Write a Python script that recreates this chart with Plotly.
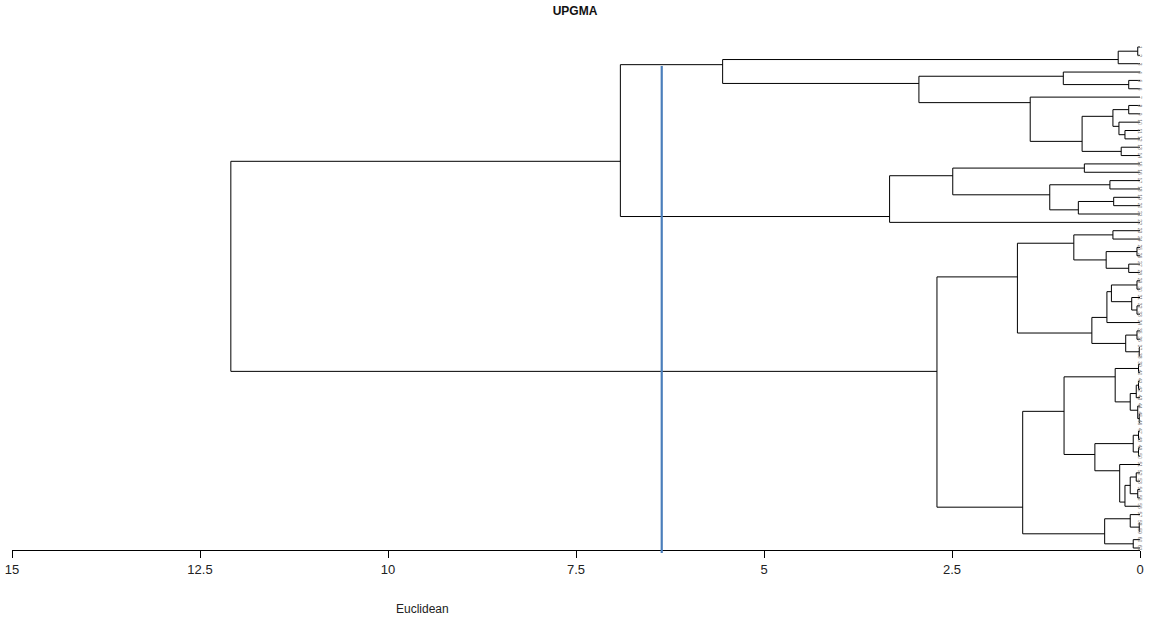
import plotly.graph_objects as go

# ---- data -------------------------------------------------------------
# leaves listed in display order (top to bottom)
leaf_labels = ["1", "2", "3", "4", "5", "6", "7", "8", "9", "10",
               "11", "12", "13", "14", "15", "16", "17", "18", "19", "20",
               "21", "22", "23", "24", "25", "26", "27", "28", "29", "30",
               "31", "32", "33", "34", "35", "36", "37", "38", "39", "40",
               "41", "42", "43", "44", "45", "46", "47", "48", "49", "50",
               "51", "52", "53", "54", "55", "56", "57", "58", "59", "60", "61"]

# linkage (R hclust style): negative = leaf number, positive = earlier merge row
merge_left = [-1, 1, -5, -4, -8, -11, -10, 5, -13, 8,
              -7, 4, 2, -15, -17, -19, 16, 15, 14, 19,
              13, -23, -25, -27, 23, 22, -29, -32, -31, 27,
              30, -35, -37, 32, 31, 26, -39, -41, 38, -45,
              -44, 39, 37, -47, -49, 44, -52, -54, 47, 49,
              -51, 46, 43, -58, -57, -60, 55, 53, 36, 21]
merge_right = [-2, -3, -6, 3, -9, -12, 6, 7, -14, 9,
               10, 11, 12, -16, -18, -20, -21, 17, 18, -22,
               20, -24, -26, -28, 24, 25, -30, -33, 28, 29,
               -34, -36, -38, 33, 34, 35, -40, -42, -43, -46,
               40, 41, 42, -48, -50, 45, -53, -55, 48, -56,
               50, 51, 52, -59, 54, -61, 56, 57, 58, 59]
merge_height = [0.03, 0.29, 0.15, 1.02, 0.15, 0.20, 0.28, 0.36, 0.25, 0.77,
                1.46, 2.94, 5.55, 0.74, 0.40, 0.35, 0.82, 1.20, 2.49, 3.33,
                6.91, 0.36, 0.04, 0.15, 0.45, 0.88, 0.04, 0.04, 0.11, 0.38,
                0.44, 0.04, 0.01, 0.19, 0.64, 1.63, 0.02, 0.02, 0.05, 0.01,
                0.03, 0.13, 0.33, 0.02, 0.02, 0.09, 0.05, 0.03, 0.13, 0.20,
                0.27, 0.60, 1.01, 0.01, 0.13, 0.09, 0.47, 1.56, 2.70, 12.09]

cut_level = 6.36
x_ticks = [15, 12.5, 10, 7.5, 5, 2.5, 0]
x_tick_text = ["15", "12.5", "10", "7.5", "5", "2.5", "0"]

title_text = "UPGMA"
x_title = "Euclidean"

FONT = "Liberation Sans Narrow, Liberation Sans, Arial"

# ---- build dendrogram segments -----------------------------------------
def node_info(ref, nodes):
    if ref < 0:
        return (-ref - 1), 1, 0.0
    return nodes[ref - 1]

xs, ys = [], []
nodes = []
for a, b, h in zip(merge_left, merge_right, merge_height):
    ya, na, ha = node_info(a, nodes)
    yb, nb, hb = node_info(b, nodes)
    y = (nb * ya + na * yb) / (na + nb)
    xs += [ha, h, h, hb, None]
    ys += [ya, ya, yb, yb, None]
    nodes.append((y, na + nb, h))

fig = go.Figure()
fig.add_trace(go.Scatter(x=xs, y=ys, mode="lines",
                         line=dict(color="#000000", width=1),
                         hoverinfo="skip", showlegend=False, cliponaxis=False))

fig.add_shape(type="line", xref="x", yref="paper",
              x0=cut_level, x1=cut_level, y0=-0.006, y1=0.949,
              line=dict(color="#4a7ebb", width=2.2))

for i, lab in enumerate(leaf_labels):
    fig.add_annotation(x=1, xref="paper", y=i, yref="y", xshift=5,
                       text=lab, showarrow=False, textangle=90,
                       font=dict(size=5, color="#777777", family=FONT))

fig.add_annotation(x=0.3635, xref="paper", y=-0.134, yref="paper",
                   text=x_title, showarrow=False,
                   font=dict(size=12, color="#222222", family=FONT))

fig.update_layout(
    width=1150, height=621,
    margin=dict(l=12, r=10, t=40, b=71, autoexpand=False),
    paper_bgcolor="white", plot_bgcolor="white",
    title=dict(text="<b>" + title_text + "</b>", x=0.5, xanchor="center",
               y=0.982, yanchor="middle", yref="container",
               font=dict(size=12, color="#111111", family=FONT)),
    xaxis=dict(range=[15, 0], tickvals=x_ticks, ticktext=x_tick_text,
               automargin=False,
               showline=True, linecolor="#000000", linewidth=1,
               ticks="outside", ticklen=7, tickcolor="#000000", tickwidth=1,
               showgrid=False, zeroline=False,
               tickfont=dict(size=13, color="#222222", family=FONT)),
    yaxis=dict(range=[60.24, -0.84], visible=False, showgrid=False,
               zeroline=False, automargin=False),
)

fig.write_html("out.html",
               config={"displayModeBar": False},
               post_script="document.body.style.margin='0';"
                           "document.body.style.overflow='hidden';")
